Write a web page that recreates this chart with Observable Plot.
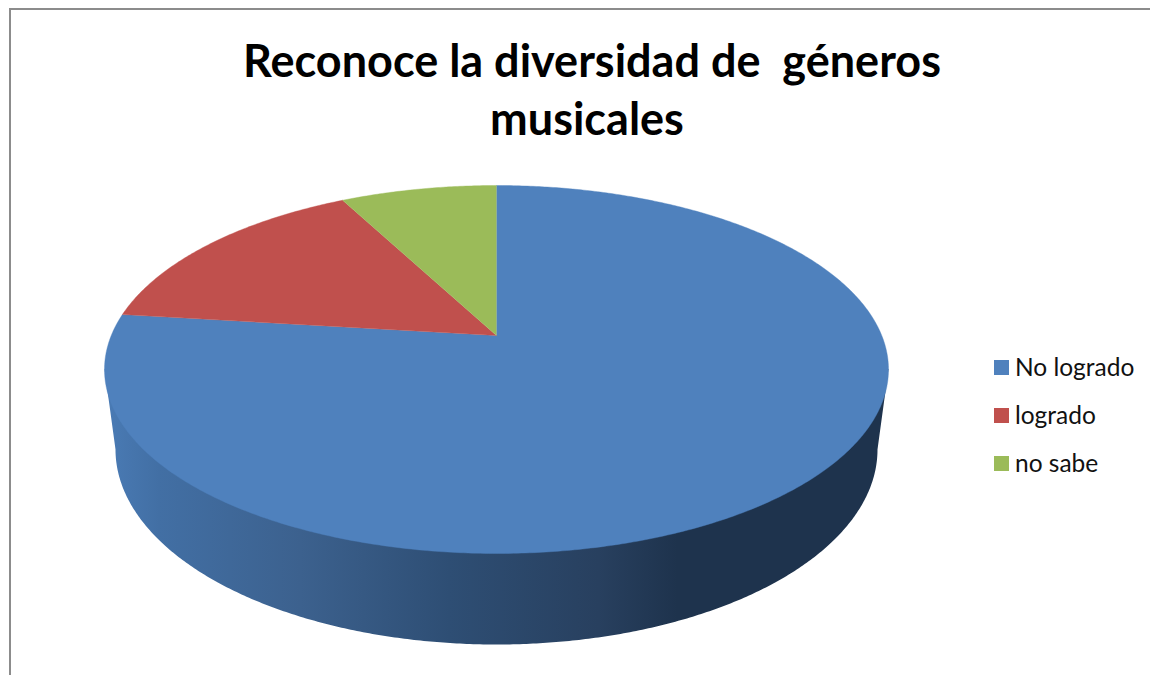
<!DOCTYPE html>
<html lang="es">
<head>
<meta charset="utf-8">
<title>Reconoce la diversidad de géneros musicales</title>
<script src="https://cdn.jsdelivr.net/npm/d3@7"></script>
<script src="https://cdn.jsdelivr.net/npm/@observablehq/plot@0.6"></script>
<style>
  html, body { margin: 0; padding: 0; background: #fff; width: 1150px; height: 675px; overflow: hidden; }
  #frame { position: absolute; left: 9px; top: 8px; width: 1200px; height: 700px; border: 2px solid #8c8c8c; box-sizing: border-box; }
  #chart { position: absolute; left: 0; top: 0; }
  #chart svg { background: transparent; display: block; }
  h1 { position: absolute; left: 92px; width: 1000px; top: 31px; margin: 0; text-align: center;
       font: 700 45px/58px Lato, "Noto Sans", sans-serif; color: #000; white-space: pre-wrap; }
  h1 span { margin-right: 10px; }
  #legend { position: absolute; left: 994px; top: 343px; font: 400 24.5px/48px Lato, "Noto Sans", sans-serif; color: #111; }
  #legend div { display: flex; align-items: center; white-space: nowrap; }
  #legend i { width: 15px; height: 15px; margin-right: 6px; display: block; }
</style>
</head>
<body>
<div id="frame"></div>
<div id="chart"></div>
<h1>Reconoce la diversidad de  géneros
<span>musicales</span></h1>
<div id="legend"></div>
<script>
const categories = ["No logrado", "logrado", "no sabe"];
const values = [10, 2, 1];
const colours = ["#4f81bd", "#c0504d", "#9bbb59"];

// Wall shading, left to right across the drum
const wallOffsets = [0, 0.07, 0.25, 0.44, 0.63, 0.73, 1];
const wallShades = ["#4a7bb5", "#426fa4", "#3c618e", "#2e4e74", "#28405f", "#1e334d", "#1e334d"];

// Top face: a unit disc seen in perspective, so the centre sits above the ellipse's middle
const width = 1150, height = 675;
const cx = 496, apexY = 335, topY = 185, bottomY = 553, halfWidth = 392;
const tilt = (bottomY + topY - 2 * apexY) / (bottomY - topY);
const rise = topY * (1 + tilt) - apexY;
const spread = halfWidth * Math.sqrt(1 - tilt * tilt);
const project = (angle, r = 1) => {
  const u = r * Math.sin(angle), v = r * Math.cos(angle), w = 1 + tilt * v;
  return {x: cx + spread * u / w, y: (rise * v + apexY) / w};
};

// One polygon per category, swept clockwise from twelve o'clock
const total = d3.sum(values);
const step = Math.PI / 360;
let sum = 0;
const slices = categories.flatMap((category, i) => {
  const start = (sum / total) * 2 * Math.PI;
  sum += values[i];
  const end = (sum / total) * 2 * Math.PI;
  const n = Math.ceil((end - start) / step);
  const rim = d3.range(n + 1).map((k) => ({category, ...project(start + ((end - start) * k) / n)}));
  return [{category, ...project(0, 0)}, ...rim];
});

// Drum wall: down from the top ellipse's widest points and around the lower ellipse
const floor = {cy: 449, rx: 381, ry: 195};
const wallLeft = d3.least(d3.range(Math.PI, 2 * Math.PI, step).map((a) => project(a)), (p) => p.x);
const wallRight = d3.greatest(d3.range(0, Math.PI, step).map((a) => project(a)), (p) => p.x);
const wall = [
  wallRight,
  ...d3.range(0, Math.PI + step, step).map((a) => ({
    x: cx + floor.rx * Math.cos(a),
    y: floor.cy + floor.ry * Math.sin(a)
  })),
  wallLeft
];

const wallGradient = () => {
  const defs = d3.create("svg:defs");
  const gradient = defs.append("linearGradient").attr("id", "wallShade");
  wallOffsets.forEach((offset, i) => {
    gradient.append("stop").attr("offset", offset).attr("stop-color", wallShades[i]);
  });
  return defs.node();
};

const chart = Plot.plot({
  width,
  height,
  margin: 0,
  x: {domain: [0, width], axis: null},
  y: {domain: [height, 0], axis: null},
  color: {domain: categories, range: colours},
  marks: [
    wallGradient,
    Plot.line(wall, {x: "x", y: "y", fill: "url(#wallShade)", stroke: "none"}),
    Plot.line(slices, {x: "x", y: "y", z: "category", fill: "category", stroke: "category", strokeWidth: 0.4})
  ]
});
document.getElementById("chart").append(chart);

// Legend rows share the colour order of the slices
const legend = d3.select("#legend");
categories.forEach((category, i) => {
  const row = legend.append("div");
  row.append("i").style("background", colours[i]);
  row.append("span").text(category);
});
</script>
</body>
</html>
